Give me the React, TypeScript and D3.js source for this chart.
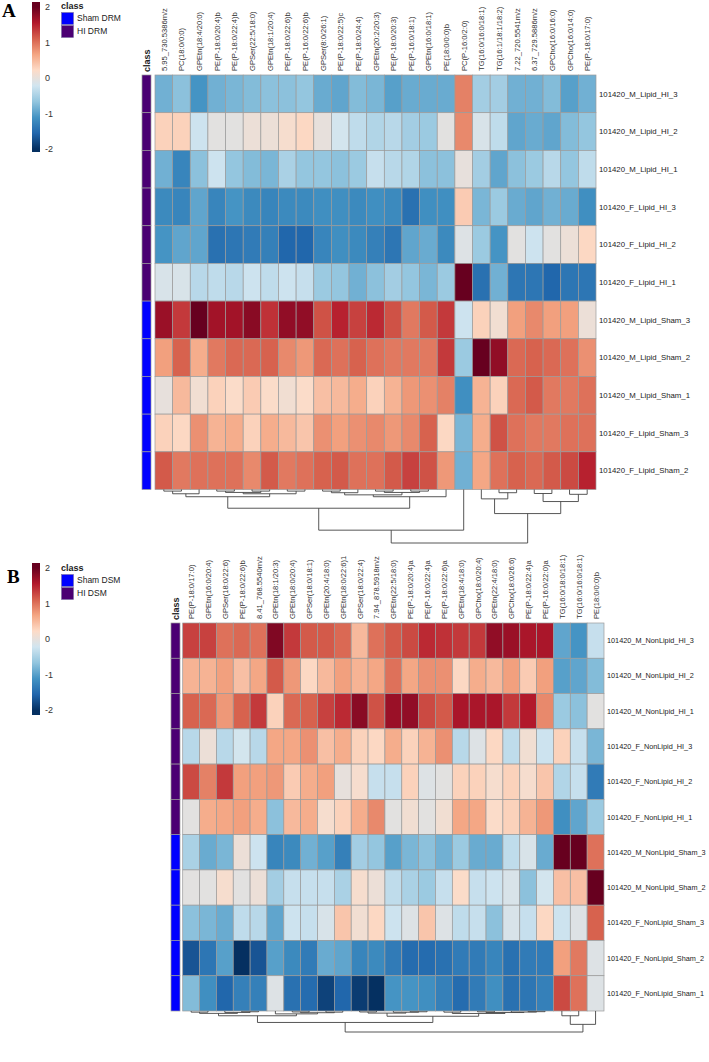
import * as d3 from "d3";

// ---------- data: panel A (DRM) ----------
const colsA = [
  "5.95_730.5386m/z", "PC(18:0/0:0)", "GPEtn(18:4/20:0)", "PE(P-18:0/20:4)b", "PE(P-18:0/22:4)b",
  "GPSer(22:5/18:0)", "GPEtn(18:1/20:4)", "PE(P-18:0/22:6)b", "PE(P-16:0/22:6)b", "GPSer(8:0/26:1)",
  "PE(P-18:0/22:5)c", "PE(P-18:0/24:4)", "GPEtn(20:2/20:3)", "PE(P-18:0/20:3)", "PE(P-16:0/18:1)",
  "GPEtn(16:0/18:1)", "PE(18:0/0:0)b", "PC(P-16:0/2:0)", "TG(16:0/16:0/18:1)", "TG(16:1/18:1/18:2)",
  "7.22_720.5541m/z", "6.37_729.5886m/z", "GPCho(16:0/16:0)", "GPCho(16:0/14:0)", "PE(P-18:0/17:0)",
];
const rowsA = [
  "101420_M_Lipid_HI_3", "101420_M_Lipid_HI_2", "101420_M_Lipid_HI_1", "101420_F_Lipid_HI_3",
  "101420_F_Lipid_HI_2", "101420_F_Lipid_HI_1", "101420_M_Lipid_Sham_3", "101420_M_Lipid_Sham_2",
  "101420_M_Lipid_Sham_1", "101420_F_Lipid_Sham_3", "101420_F_Lipid_Sham_2",
];
const classA = ["HI", "HI", "HI", "HI", "HI", "HI", "Sham", "Sham", "Sham", "Sham", "Sham"];
const legendA = ["Sham DRM", "HI DRM"];
const valuesA = [
  [-0.85, -0.7, -1.1, -0.85, -0.8, -0.75, -0.7, -0.7, -0.65, -0.9, -0.95, -0.75, -0.8, -1.0, -0.9, -0.9, -0.9, 0.9, -0.55, -0.55, -0.85, -0.85, -0.75, -1.0, -0.85],
  [0.3, 0.3, -0.25, -0.05, -0.05, 0.05, 0.05, 0.15, 0.25, 0.0, -0.2, -0.35, -0.45, -0.4, -0.55, -0.6, -0.05, 0.85, -0.15, -0.35, -0.95, -0.9, -0.95, -0.75, -0.65],
  [-0.85, -1.25, -0.7, -0.25, -0.65, -0.75, -0.8, -0.5, -0.65, -0.65, -0.7, -0.6, -0.3, -0.4, -0.45, -0.7, -0.7, 0.0, -0.55, -0.95, -0.7, -0.6, -0.4, -0.65, -0.35],
  [-1.2, -1.25, -0.95, -1.25, -1.1, -1.2, -1.25, -1.2, -1.2, -1.15, -1.15, -1.2, -1.15, -1.2, -1.45, -1.15, -1.15, 0.35, -0.8, -0.6, -0.9, -0.95, -0.85, -0.9, -1.15],
  [-1.1, -0.95, -0.95, -1.45, -1.4, -1.35, -1.3, -1.55, -1.55, -1.25, -1.15, -1.2, -1.3, -1.4, -0.95, -0.9, -1.2, -0.1, -0.6, -1.1, -0.05, -0.25, -0.05, 0.05, 0.25],
  [-0.15, -0.15, -0.4, -0.35, -0.4, -0.25, -0.35, -0.25, -0.3, -0.6, -0.65, -0.85, -0.7, -0.55, -0.65, -0.8, -0.6, 2.0, -1.45, -0.85, -1.4, -1.4, -1.55, -1.4, -1.4],
  [1.7, 1.35, 2.0, 1.65, 1.65, 1.8, 1.4, 1.75, 1.75, 1.2, 1.5, 1.3, 1.45, 1.2, 0.95, 1.15, 1.35, -0.25, 0.3, 0.1, 0.7, 0.85, 0.7, 0.7, 0.05],
  [0.7, 1.1, 0.6, 0.95, 1.05, 1.05, 1.1, 0.85, 0.75, 1.05, 1.0, 1.1, 1.0, 0.95, 0.95, 0.95, 1.35, -0.6, 2.0, 1.75, 1.05, 1.1, 1.05, 1.0, 0.8],
  [0.0, 0.5, 0.1, 0.3, 0.2, 0.35, 0.2, 0.1, 0.2, 0.45, 0.5, 0.6, 0.3, 0.55, 0.75, 0.8, 0.9, -1.15, 0.55, 0.3, 1.05, 1.15, 0.95, 0.95, 1.0],
  [0.3, 0.25, 0.8, 0.55, 0.6, 0.3, 0.6, 0.5, 0.4, 0.8, 0.7, 0.8, 0.85, 0.75, 0.85, 1.1, 0.25, -0.8, 0.6, 1.2, 1.0, 0.95, 0.95, 1.0, 1.0],
  [1.15, 0.95, 1.0, 1.0, 1.0, 0.85, 1.15, 0.95, 1.0, 1.1, 1.15, 1.0, 1.0, 1.15, 1.3, 1.2, 0.75, -0.85, 0.65, 1.0, 1.1, 1.05, 1.15, 1.25, 1.5],
];
// column dendrogram: [mergeHeight, left, right], leaves = column index
const treeA = [20,
  [15.2,
    [7.0,
      [2.7, [1.6, [0.6, 0, 1], 2], [1.6, [1.1, [0.6, 3, 4], [0.6, 5, 6]], [0.6, 7, 8]]],
      [2.7, [2.0, [1.2, [0.6, 9, 10], 11], [1.1, [0.6, 12, 13], [0.6, 14, 15]]], 16]],
    17],
  [9, [3.5, 18, [1.2, 19, 20]], [4.5, [1.5, 21, 22], [1.8, 23, 24]]]];

// ---------- data: panel B (DSM) ----------
const colsB = [
  "PE(P-18:0/17:0)", "GPEtn(16:0/20:4)", "GPSer(18:0/22:6)", "PE(P-18:0/22:6)b", "8.41_768.5540m/z",
  "GPEtn(18:1/20:3)", "GPEtn(18:0/20:4)", "GPSer(18:0/18:1)", "GPEtn(20:4/18:0)", "GPEtn(18:0/22:6)1",
  "GPSer(18:0/22:4)", "7.94_878.5918m/z", "GPEtn(22:5/18:0)", "PE(P-18:0/20:4)a", "PE(P-16:0/22:4)a",
  "PE(P-18:0/22:6)a", "GPEtn(18:4/18:0)", "GPCho(18:0/20:4)", "GPEtn(22:4/18:0)", "GPCho(18:0/26:6)",
  "PE(P-18:0/22:4)a", "PE(P-16:0/22:0)a", "TG(16:0/18:0/18:1)", "TG(16:0/16:0/18:1)", "PE(18:0/0:0)b",
];
const rowsB = [
  "101420_M_NonLipid_HI_3", "101420_M_NonLipid_HI_2", "101420_M_NonLipid_HI_1", "101420_F_NonLipid_HI_3",
  "101420_F_NonLipid_HI_2", "101420_F_NonLipid_HI_1", "101420_M_NonLipid_Sham_3", "101420_M_NonLipid_Sham_2",
  "101420_F_NonLipid_Sham_3", "101420_F_NonLipid_Sham_2", "101420_F_NonLipid_Sham_1",
];
const classB = ["HI", "HI", "HI", "HI", "HI", "HI", "Sham", "Sham", "Sham", "Sham", "Sham"];
const legendB = ["Sham DSM", "HI DSM"];
const valuesB = [
  [1.3, 1.3, 1.0, 1.05, 1.0, 1.85, 1.35, 1.15, 1.15, 1.05, 0.5, 1.0, 1.15, 1.25, 1.45, 1.4, 1.35, 1.35, 1.75, 1.7, 1.6, 1.6, -0.95, -1.1, -0.3],
  [0.55, 0.55, 0.7, 0.45, 0.65, 1.15, 0.75, 0.25, 0.5, 0.7, 0.55, 0.65, 1.0, 0.65, 0.8, 0.8, 0.25, 0.6, 0.5, 0.7, 0.35, 0.7, -1.0, -0.95, -0.75],
  [1.1, 1.05, 0.75, 1.1, 1.35, 0.3, 1.05, 1.1, 1.3, 1.45, 1.8, 1.2, 1.7, 1.75, 1.25, 1.15, 1.6, 1.6, 1.6, 1.35, 1.55, 0.85, -0.6, -0.7, -0.05],
  [-0.4, 0.05, -0.4, -0.2, -0.4, 0.65, 0.65, 0.8, 0.45, 0.6, 0.3, 0.25, 0.6, 0.3, 0.55, 0.8, -0.4, -0.1, 0.25, -0.35, 0.1, -0.25, 0.3, -0.3, -0.8],
  [1.25, 0.9, 1.35, 0.7, 0.7, 0.75, 0.35, 0.6, 0.7, 0.0, 0.15, -0.3, -0.3, 0.3, -0.1, -0.05, 0.3, 0.3, 0.15, 0.3, 0.15, 0.4, -0.45, -0.3, -1.35],
  [-0.05, 0.6, 0.65, 0.7, 0.6, -0.7, 0.5, 0.6, 0.15, 0.3, 0.6, 0.85, -0.05, 0.1, -0.05, 0.1, 0.65, 0.65, 0.2, 0.3, 0.55, 0.75, -1.15, -0.95, -0.6],
  [-0.5, -0.9, -0.8, 0.05, -0.25, -1.25, -1.2, -0.85, -1.0, -1.3, -0.55, -0.65, -1.0, -0.8, -0.7, -0.85, -0.6, -0.9, -0.9, -0.35, -0.15, -0.9, 2.0, 2.0, 1.0],
  [-0.05, -0.05, 0.15, -0.05, 0.05, -0.55, -0.3, -0.3, -0.3, -0.5, 0.15, 0.05, -0.35, -0.5, -0.6, -0.3, 0.2, -0.3, -0.25, -0.15, -0.7, -0.2, 0.45, 0.45, 2.0],
  [-0.7, -0.8, -0.9, -0.35, -0.4, -0.95, -0.25, -0.3, -0.15, 0.4, 0.1, 0.25, -0.25, -0.1, 0.4, -0.1, -0.35, -0.3, -0.7, -0.15, -0.3, 0.25, -0.25, -0.1, 1.1],
  [-1.7, -1.4, -1.0, -2.0, -1.7, -1.0, -1.2, -1.35, -0.9, -0.95, -1.25, -1.2, -1.35, -1.5, -1.5, -1.45, -1.35, -1.35, -1.25, -1.45, -1.35, -1.35, 0.7, 0.95, -0.1],
  [-0.75, -1.15, -1.55, -1.3, -1.3, -0.1, -1.45, -1.5, -1.85, -1.55, -1.9, -2.0, -1.1, -1.1, -1.15, -1.3, -1.5, -1.35, -1.15, -1.45, -1.4, -1.3, 1.25, 1.0, -0.1],
];
const treeB = [22,
  [12,
    [5, [2.5, [1.2, 0, 1], [1.5, 2, [0.8, 3, 4]]], [3, 5, [1.8, [1.0, 6, 7], [1.2, 8, 9]]]],
    [5.5, [2.2, [1.0, 10, 11], [1.3, 12, [0.8, 13, 14]]], [2.6, [1.2, 15, 16], [1.6, [0.9, 17, 18], [1.1, 19, [0.7, 20, 21]]]]]],
  [14, [5, 22, 23], 24]];

const ticks = [2, 1, 0, -1, -2];
const classColor: Record<string, string> = { Sham: "#0000FF", HI: "#4B0073" };
const palette = ["#053061", "#2166AC", "#4393C3", "#92C5DE", "#D1E5F0", "#FDDBC7", "#F4A582", "#D6604D", "#B2182B", "#67001F"];
const color = d3.scaleLinear<string>()
  .domain(palette.map((_, i) => -2 + (i * 4) / 9))
  .range(palette)
  .clamp(true);

const sans = "'Liberation Sans', Arial, sans-serif";

type Tree = number | any[];

function treeSegments(tree: Tree, xOf: (i: number) => number, yOf: (h: number) => number) {
  const segs: [number, number, number, number][] = [];
  function walk(n: Tree): { x: number; h: number } {
    if (typeof n === "number") return { x: xOf(n), h: 0 };
    const [h, l, r] = n as [number, Tree, Tree];
    const a = walk(l);
    const b = walk(r);
    segs.push([a.x, yOf(a.h), a.x, yOf(h)]);
    segs.push([b.x, yOf(b.h), b.x, yOf(h)]);
    segs.push([a.x, yOf(h), b.x, yOf(h)]);
    return { x: (a.x + b.x) / 2, h };
  }
  walk(tree);
  return segs;
}

type PanelProps = {
  id: string;
  letter: string;
  letterX: number;
  letterY: number;
  cols: string[];
  rows: string[];
  classes: string[];
  legend: string[];
  values: number[][];
  tree: Tree;
  x0: number;
  x1: number;
  y0: number;
  y1: number;
  classX: number;
  treeBottom: number;
  legendTop: number;
  legendBottom: number;
  legend2Y: number;
  legend0Y: number;
  classTitleY: number;
  rowFont: number;
};

function Panel(p: PanelProps) {
  const x = d3.scaleBand<number>().domain(d3.range(p.cols.length)).range([p.x0, p.x1]);
  const y = d3.scaleBand<number>().domain(d3.range(p.rows.length)).range([p.y0, p.y1]);
  const ly = d3.scaleLinear().domain([2, 0]).range([p.legend2Y, p.legend0Y]);
  const maxH = typeof p.tree === "number" ? 1 : (p.tree as any[])[0];
  const th = d3.scaleLinear().domain([0, maxH]).range([p.y1, p.treeBottom]);
  const segs = treeSegments(p.tree, (i) => (x(i) ?? 0) + x.bandwidth() / 2, th);
  const gid = `grad-${p.id}`;
  return (
    <g>
      <text x={p.letterX} y={p.letterY} fontFamily="'Liberation Serif', 'Times New Roman', serif" fontWeight="bold" fontSize={19}>{p.letter}</text>
      {/* colour key */}
      <defs>
        <linearGradient id={gid} x1="0" y1="1" x2="0" y2="0">
          {palette.map((c, i) => {
            const v = -2 + (i * 4) / 9;
            const off = (ly(v) - p.legendBottom) / (p.legendTop - p.legendBottom);
            return <stop key={i} offset={off} stopColor={c} />;
          })}
        </linearGradient>
      </defs>
      <rect x={32} y={p.legendTop} width={8} height={p.legendBottom - p.legendTop} fill={`url(#${gid})`} />
      {ticks.map((t) => (
        <text key={t} x={45} y={ly(t)} dy="0.35em" fontFamily={sans} fontSize={9} fill="#333">{t}</text>
      ))}
      {/* class legend */}
      <text x={61} y={p.classTitleY} dy="0.35em" fontFamily={sans} fontWeight="bold" fontSize={9} fill="#222">class</text>
      {p.legend.map((lab, i) => (
        <g key={lab}>
          <rect x={61.5} y={p.classTitleY + 6.5 + i * 13} width={12} height={12}
            fill={i === 0 ? classColor.Sham : classColor.HI} stroke="#7a6fa0" strokeWidth={0.6} />
          <text x={77} y={p.classTitleY + 12.5 + i * 13} dy="0.35em" fontFamily={sans} fontSize={8.5} fill="#222">{lab}</text>
        </g>
      ))}
      {/* column labels */}
      <text transform={`translate(${p.classX + 7.5},${p.y0 - 3}) rotate(-90)`} fontFamily={sans} fontWeight="bold" fontSize={9} fill="#222">class</text>
      {p.cols.map((c, i) => (
        <text key={c + i} transform={`translate(${(x(i) ?? 0) + x.bandwidth() / 2 + 3},${p.y0 - 4}) rotate(-90)`}
          fontFamily={sans} fontSize={7.6} fill="#333">{c}</text>
      ))}
      {/* class annotation */}
      {p.classes.map((c, i) => (
        <rect key={i} x={p.classX} y={y(i)} width={9} height={y.bandwidth()} fill={classColor[c]} stroke="#999" strokeWidth={0.7} />
      ))}
      {/* cells */}
      {p.values.map((row, r) => row.map((v, c) => (
        <rect key={`${r}-${c}`} x={x(c)} y={y(r)} width={x.bandwidth()} height={y.bandwidth()}
          fill={color(v)} stroke="#9a9a9a" strokeWidth={0.7} />
      )))}
      {/* row labels */}
      {p.rows.map((r, i) => (
        <text key={r} x={p.x1 + 3} y={(y(i) ?? 0) + y.bandwidth() / 2} dy="0.35em" fontFamily={sans} fontSize={p.rowFont} fill="#222">{r}</text>
      ))}
      {/* dendrogram */}
      {segs.map((s, i) => (
        <line key={i} x1={s[0]} y1={s[1]} x2={s[2]} y2={s[3]} stroke="#444" strokeWidth={0.9} />
      ))}
    </g>
  );
}

export default function App() {
  return (
    <svg width={709} height={1062} style={{ position: "absolute", left: 0, top: 0, background: "#fff" }}>
      <rect width={709} height={1062} fill="#fff" />
      <Panel id="a" letter="A" letterX={2} letterY={17} cols={colsA} rows={rowsA} classes={classA} legend={legendA}
        values={valuesA} tree={treeA} x0={155} x1={596} y0={75} y1={489.5} classX={142} treeBottom={543}
        legendTop={2} legendBottom={152} legend2Y={7} legend0Y={78} classTitleY={6} rowFont={7.8} />
      <Panel id="b" letter="B" letterX={7} letterY={583} cols={colsB} rows={rowsB} classes={classB} legend={legendB}
        values={valuesB} tree={treeB} x0={182.7} x1={604} y0={623} y1={1011} classX={171} treeBottom={1032}
        legendTop={563} legendBottom={715} legend2Y={567.7} legend0Y={639} classTitleY={568} rowFont={7.3} />
    </svg>
  );
}
